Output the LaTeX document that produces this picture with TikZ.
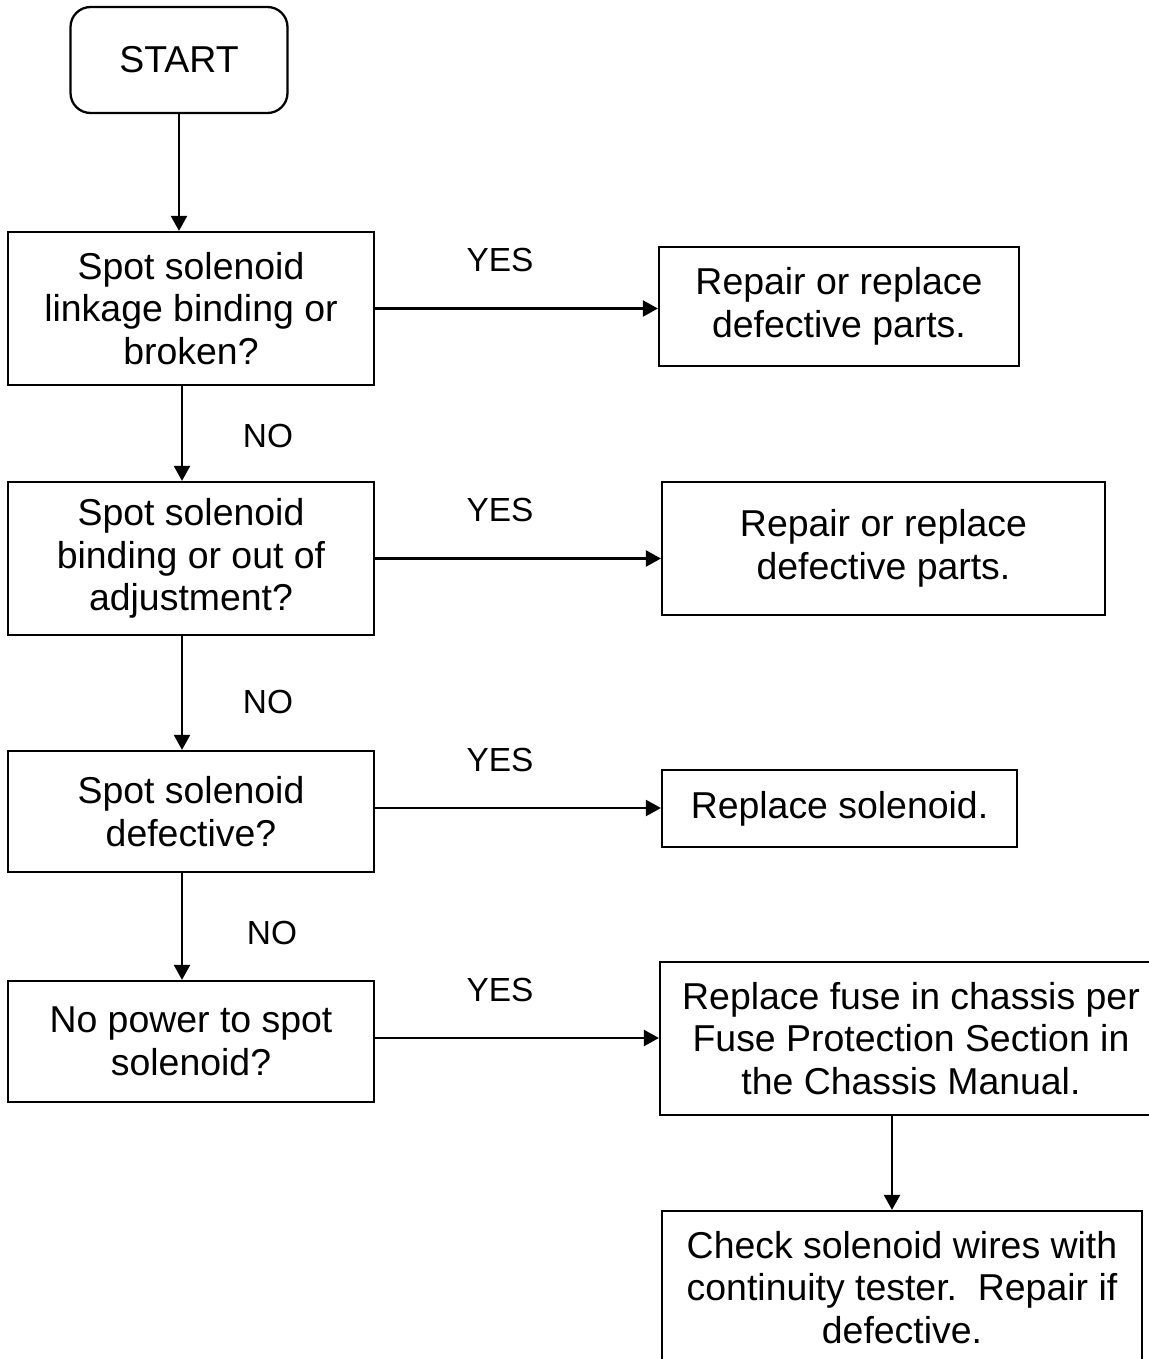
\documentclass[tikz,border=0pt]{standalone}
\usepackage{fontspec}
\setmainfont{Liberation Sans}
\usepackage{tikz}
\usetikzlibrary{arrows.meta,positioning,calc}
\tikzset{
  stepbox/.style  = {draw, line width=1.3pt, rectangle, align=center,
                     inner sep=2pt, font=\boxtext},
  startbox/.style = {stepbox, rounded corners=0.4cm},
  sig/.style      = {-{Triangle[length=3mm,width=3.2mm]}, line width=1.3pt},
  lbl/.style      = {inner sep=0pt},
}
\newcommand{\boxtext}{\fontsize{21.3}{24.2}\selectfont}
\newcommand{\lbltext}{\fontsize{19}{23}\selectfont}

\begin{document}
\begin{tikzpicture}[x=0.02cm,y=-0.02cm,font=\lbltext]
\useasboundingbox (0,0) rectangle (1149,1359);
\node[startbox,minimum width=4.34cm,minimum height=2.12cm] (START) at (179,60) {START};
% left column: questions
\node[stepbox,minimum width=7.32cm,minimum height=3.06cm] (B1) at (191,308.5)
  {Spot solenoid\\linkage binding or\\broken?};
\node[stepbox,minimum width=7.32cm,minimum height=3.06cm] (B2) at (191,558.5)
  {Spot solenoid\\binding or out of\\adjustment?};
\node[stepbox,minimum width=7.32cm,minimum height=2.42cm] (B3) at (191,811.5)
  {Spot solenoid\\defective?};
\node[stepbox,minimum width=7.32cm,minimum height=2.42cm] (B4) at (191,1041.5)
  {No power to spot\\solenoid?};
% right column: actions
\node[stepbox,minimum width=7.2cm,minimum height=2.38cm] (R1) at (839,306.5)
  {Repair or replace\\defective parts.};
\node[stepbox,minimum width=8.86cm,minimum height=2.66cm] (R2) at (883.5,548.5)
  {Repair or replace\\defective parts.};
\node[stepbox,minimum width=7.1cm,minimum height=1.54cm] (R3) at (839.5,808.5)
  {Replace solenoid.};
\node[stepbox,minimum width=10.04cm,minimum height=3.06cm] (R4) at (911,1038.5)
  {Replace fuse in chassis per\\Fuse Protection Section in\\the Chassis Manual.};
\node[stepbox,minimum width=9.6cm,minimum height=3.06cm] (R5) at (902,1287.5)
  {Check solenoid wires with\\continuity tester.\ \ Repair if\\defective.};
% NO path
\draw[sig] (START.south) -- (START.south |- B1.north);
\draw[sig] ([xshift=-0.18cm]B1.south) -- ([xshift=-0.18cm]B2.north);
\draw[sig] ([xshift=-0.18cm]B2.south) -- ([xshift=-0.18cm]B3.north);
\draw[sig] ([xshift=-0.18cm]B3.south) -- ([xshift=-0.18cm]B4.north);
% YES paths
\draw[sig] (B1.east) -- (B1.east -| R1.west);
\draw[sig] (B2.east) -- (B2.east -| R2.west);
\draw[sig] ([yshift=0.07cm]B3.east) -- ([yshift=0.07cm]B3.east -| R3.west);
\draw[sig] ([yshift=0.07cm]B4.east) -- ([yshift=0.07cm]B4.east -| R4.west);
\draw[sig] ([xshift=-0.2cm]R5.north |- R4.south) -- ([xshift=-0.2cm]R5.north);
% labels
\node[lbl] (yes1) at (500,260) {YES};
\node[lbl] (yes2) at (500,510) {YES};
\node[lbl] (yes3) at (500,760) {YES};
\node[lbl] (yes4) at (500,990) {YES};
\node[lbl] (no1) at (268,436) {NO};
\node[lbl] (no2) at (268,702) {NO};
\node[lbl] (no3) at (272,933) {NO};
\end{tikzpicture}
\end{document}
